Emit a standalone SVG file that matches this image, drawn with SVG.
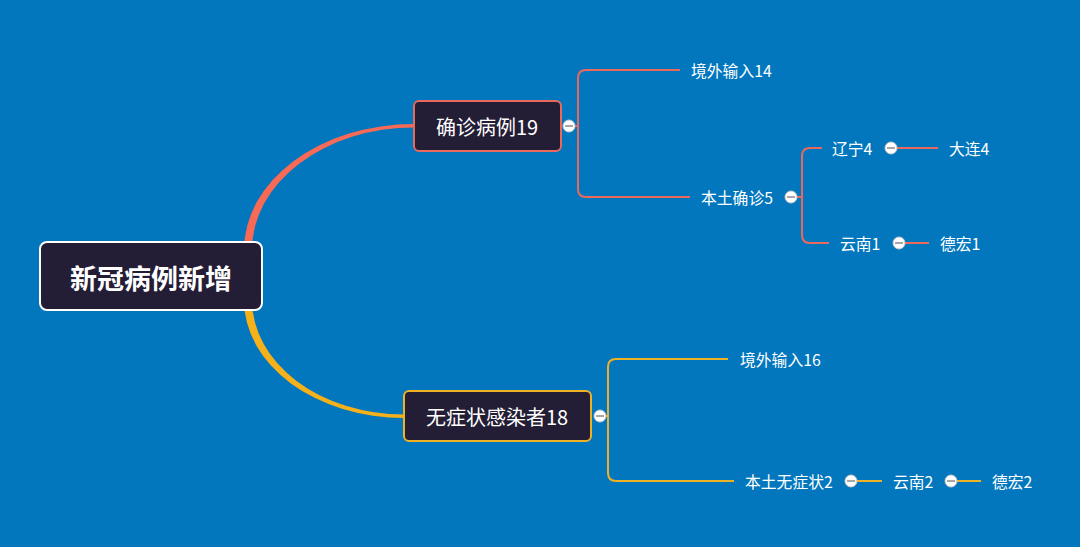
<svg xmlns="http://www.w3.org/2000/svg" width="1080" height="547" viewBox="0 0 1080 547">
<style>
text{font-family:"Noto Sans CJK SC","Noto Sans",sans-serif;fill:#ffffff;dominant-baseline:central}
.leaf{font-size:15.8px}
.br{font-size:20px;text-anchor:middle}
.root{font-size:27px;font-weight:bold;text-anchor:middle}
.box{fill:#231d35;stroke-width:2}
.red{stroke:#e9695d;fill:none;stroke-width:2}
.yel{stroke:#f0b225;fill:none;stroke-width:2}
.tg circle{fill:#ffffff;stroke:#c9c9c9;stroke-width:1}
.tg line{stroke:#8a8a8a;stroke-width:1.5}
</style>
<rect width="1080" height="547" fill="#0277be"/>
<g id="connectors">
<path d="M244,250 A170,126 0 0 1 414,124 L414,127.5 A162,122.5 0 0 0 252,250 Z" fill="#f86a55"/>
<path d="M244,300 A160,118 0 0 0 404,418 L404,414.5 A152,114.5 0 0 1 252,300 Z" fill="#f6b019"/>
<path class="red" d="M575,126 H578 M680,70 H586 Q578,70 578,78 V189 Q578,197 586,197 H690"/>
<path class="red" d="M797,197 H802 M822,148 H810 Q802,148 802,156 V235 Q802,243 810,243 H829"/>
<path class="red" d="M897,148 H938 M905,243 H929"/>
<path class="yel" d="M606,416 H608 M728,359 H616 Q608,359 608,367 V473 Q608,481 616,481 H734"/>
<path class="yel" d="M857,481 H882 M957,481 H981"/>
</g>
<g id="root">
<rect x="40" y="242" width="222" height="68" rx="7" class="box" stroke="#ffffff"/>
<text x="151" y="277" class="root">新冠病例新增</text>
</g>
<g id="n-confirmed">
<rect x="414" y="101" width="147" height="50" rx="5" class="box" stroke="#e9695d"/>
<text x="487" y="126" class="br">确诊病例19</text>
</g>
<g id="n-asym">
<rect x="404" y="391" width="187" height="50" rx="5" class="box" stroke="#f0b225"/>
<text x="497" y="416" class="br">无症状感染者18</text>
</g>
<g id="n-c-import"><text x="691" y="70" class="leaf">境外输入14</text></g>
<g id="n-c-local"><text x="701" y="197" class="leaf">本土确诊5</text></g>
<g id="n-liaoning"><text x="832" y="148" class="leaf">辽宁4</text></g>
<g id="n-dalian"><text x="949" y="148" class="leaf">大连4</text></g>
<g id="n-yunnan1"><text x="840" y="243" class="leaf">云南1</text></g>
<g id="n-dehong1"><text x="940" y="243" class="leaf">德宏1</text></g>
<g id="n-a-import"><text x="740" y="359" class="leaf">境外输入16</text></g>
<g id="n-a-local"><text x="745" y="481" class="leaf">本土无症状2</text></g>
<g id="n-yunnan2"><text x="893" y="481" class="leaf">云南2</text></g>
<g id="n-dehong2"><text x="992" y="481" class="leaf">德宏2</text></g>
<g id="toggles" class="tg">
<circle cx="569" cy="126" r="6"/><line x1="565" y1="126" x2="573" y2="126"/>
<circle cx="600" cy="416" r="6"/><line x1="596" y1="416" x2="604" y2="416"/>
<circle cx="791" cy="197" r="6"/><line x1="787" y1="197" x2="795" y2="197"/>
<circle cx="891" cy="148" r="6"/><line x1="887" y1="148" x2="895" y2="148"/>
<circle cx="899" cy="243" r="6"/><line x1="895" y1="243" x2="903" y2="243"/>
<circle cx="851" cy="481" r="6"/><line x1="847" y1="481" x2="855" y2="481"/>
<circle cx="951" cy="481" r="6"/><line x1="947" y1="481" x2="955" y2="481"/>
</g>
</svg>
